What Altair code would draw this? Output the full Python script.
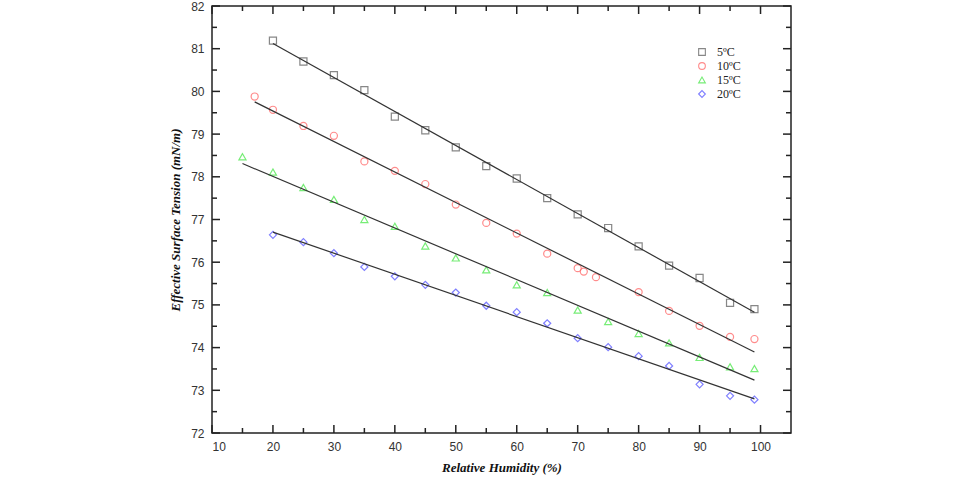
import altair as alt
import pandas as pd

series_names = ["5ºC", "10ºC", "15ºC", "20ºC"]
series_colors = ["#555555", "#ff5c5c", "#3ee63e", "#4a4aff"]
series_shapes = ["square", "circle", "triangle-up", "diamond"]

x_5 = [20, 25, 30, 35, 40, 45, 50, 55, 60, 65, 70, 75, 80, 85, 90, 95, 99]
y_5 = [81.19, 80.70, 80.38, 80.03, 79.41, 79.09, 78.69, 78.25, 77.96, 77.50,
       77.12, 76.80, 76.37, 75.92, 75.63, 75.05, 74.90]
x_10 = [17, 20, 25, 30, 35, 40, 45, 50, 55, 60, 65, 70, 71, 73, 80, 85, 90, 95, 99]
y_10 = [79.88, 79.57, 79.19, 78.96, 78.36, 78.14, 77.83, 77.35, 76.92, 76.67,
        76.20, 75.86, 75.78, 75.65, 75.30, 74.86, 74.51, 74.25, 74.20]
x_15 = [15, 20, 25, 30, 35, 40, 45, 50, 55, 60, 65, 70, 75, 80, 85, 90, 95, 99]
y_15 = [78.47, 78.11, 77.75, 77.47, 77.00, 76.84, 76.38, 76.10, 75.82, 75.47,
        75.29, 74.88, 74.61, 74.33, 74.11, 73.77, 73.55, 73.51]
x_20 = [20, 25, 30, 35, 40, 45, 50, 55, 60, 65, 70, 75, 80, 85, 90, 95, 99]
y_20 = [76.64, 76.47, 76.21, 75.89, 75.67, 75.47, 75.29, 74.98, 74.83, 74.57,
        74.22, 74.01, 73.80, 73.57, 73.14, 72.87, 72.78]

x_major = [10, 20, 30, 40, 50, 60, 70, 80, 90, 100]
x_minor = [15, 25, 35, 45, 55, 65, 75, 85, 95]
y_major = [72, 73, 74, 75, 76, 77, 78, 79, 80, 81, 82]
y_minor = [72.5, 73.5, 74.5, 75.5, 76.5, 77.5, 78.5, 79.5, 80.5, 81.5]

rows = []
for name, xs, ys in zip(series_names, [x_5, x_10, x_15, x_20], [y_5, y_10, y_15, y_20]):
    for a, b in zip(xs, ys):
        rows.append({"series": name, "x": a, "y": b})
df = pd.DataFrame(rows)

W, H = 579, 427
xscale = alt.Scale(domain=[10, 105], nice=False, zero=False)
yscale = alt.Scale(domain=[72, 82], nice=False, zero=False)

x_axis = alt.Axis(values=x_major, ticks=False, tickSize=0, domain=False, grid=False,
                  labelPadding=8, labelFont="Liberation Sans", labelFontSize=12,
                  labelColor="#333333", title="Relative Humidity (%)",
                  titleFont="Liberation Serif", titleFontSize=13, titleFontStyle="italic",
                  titleFontWeight="bold", titlePadding=9, titleColor="#111111")
y_axis = alt.Axis(values=y_major, ticks=False, tickSize=0, domain=False, grid=False,
                  labelPadding=8, labelFont="Liberation Sans", labelFontSize=12,
                  labelColor="#333333", title="Effective Surface Tension (mN/m)",
                  titleFont="Liberation Serif", titleFontSize=13, titleFontStyle="italic",
                  titleFontWeight="bold", titlePadding=8, titleColor="#111111")

color_scale = alt.Scale(domain=series_names, range=series_colors)
shape_scale = alt.Scale(domain=series_names, range=series_shapes)
legend = alt.Legend(title=None, orient="none", legendX=472, legendY=28,
                    fillColor="white", padding=12, labelFont="Liberation Serif",
                    labelFontSize=12, labelColor="#222222", symbolSize=45,
                    symbolStrokeWidth=1.1, rowPadding=2, labelOffset=9)

points = alt.Chart(df).mark_point(filled=False, size=50, strokeWidth=1.2).encode(
    x=alt.X("x:Q", scale=xscale, axis=x_axis),
    y=alt.Y("y:Q", scale=yscale, axis=y_axis),
    color=alt.Color("series:N", scale=color_scale, legend=legend, sort=series_names),
    shape=alt.Shape("series:N", scale=shape_scale, legend=legend, sort=series_names),
)

fits = alt.Chart(df).transform_regression("x", "y", groupby=["series"]).mark_line(
    color="#333333", strokeWidth=1.2
).encode(
    x=alt.X("x:Q", scale=xscale, axis=x_axis),
    y=alt.Y("y:Q", scale=yscale, axis=y_axis),
    detail="series:N",
)

tick_color = "#222222"

def xticks(vals, length):
    d = pd.DataFrame({"x": vals})
    bottom = alt.Chart(d).mark_rule(color=tick_color, strokeWidth=1.5).encode(
        x=alt.X("x:Q", scale=xscale, axis=x_axis), y=alt.value(H), y2=alt.value(H - length))
    top = alt.Chart(d).mark_rule(color=tick_color, strokeWidth=1.5).encode(
        x=alt.X("x:Q", scale=xscale, axis=x_axis), y=alt.value(0), y2=alt.value(length))
    return [bottom, top]

def yticks(vals, length):
    d = pd.DataFrame({"y": vals})
    left = alt.Chart(d).mark_rule(color=tick_color, strokeWidth=1.5).encode(
        y=alt.Y("y:Q", scale=yscale, axis=y_axis), x=alt.value(0), x2=alt.value(length))
    right = alt.Chart(d).mark_rule(color=tick_color, strokeWidth=1.5).encode(
        y=alt.Y("y:Q", scale=yscale, axis=y_axis), x=alt.value(W), x2=alt.value(W - length))
    return [left, right]

layers = [points, fits] + xticks(x_major, 8) + xticks(x_minor, 5) + yticks(y_major, 8) + yticks(y_minor, 5)

chart = alt.layer(*layers).properties(
    width=W, height=H,
    autosize=alt.AutoSizeParams(type="none"),
    padding={"left": 212, "top": 6, "right": 169, "bottom": 45},
    background="white",
).configure_view(stroke="#222222", strokeWidth=1.5)

chart.save("out.html", embed_options={"renderer": "svg", "actions": False})
